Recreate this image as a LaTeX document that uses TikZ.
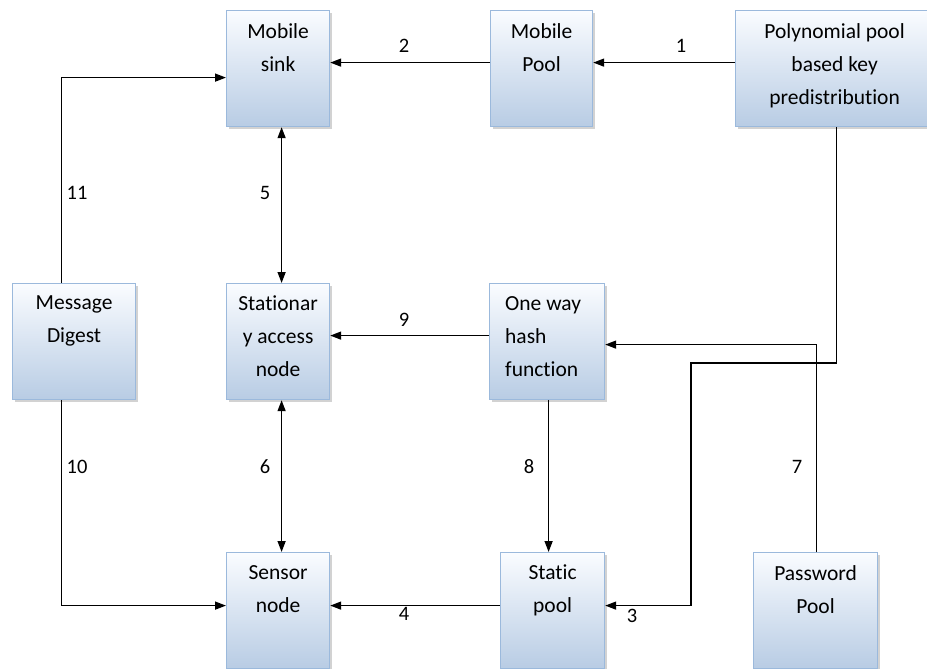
\documentclass[tikz,border=0pt]{standalone}
\usepackage{fontspec}
\setmainfont{Carlito}[Ligatures=NoCommon]
\usetikzlibrary{arrows.meta,shadows}
\definecolor{boxtop}{RGB}{250,252,255}
\definecolor{boxbot}{RGB}{184,204,228}
\definecolor{boxline}{RGB}{155,185,220}

\begin{document}
\begin{tikzpicture}[x=1pt,y=-1pt,
    blk/.style={draw=boxline, line width=1.2pt, top color=boxtop, bottom color=boxbot,
        anchor=north west, minimum height=116pt, inner sep=0pt,
        drop shadow={shadow xshift=2pt, shadow yshift=-2pt, fill=black!35, opacity=0.5}},
    txt/.style={anchor=north, align=center, inner sep=0pt, font=\fontsize{21.5}{33}\selectfont},
    num/.style={inner sep=0pt, font=\fontsize{20.5}{24}\selectfont},
    arr/.style={line width=1.5pt, -{Triangle[length=11pt,width=8pt]}},
    darr/.style={line width=1.5pt, {Triangle[length=11pt,width=8pt]}-{Triangle[length=11pt,width=8pt]}}]
        \useasboundingbox (0,0) rectangle (927,669);
        % boxes
        \node[blk, minimum width=103pt] (sink) at (226,10) {};
        \node[blk, minimum width=102pt] (mpool) at (490,10) {};
        \node[blk, minimum width=198pt] (poly) at (735,10) {};
        \node[blk, minimum width=123pt] (md) at (12,283) {};
        \node[blk, minimum width=103pt] (stat) at (226,283) {};
        \node[blk, minimum width=115pt] (hash) at (489,283) {};
        \node[blk, minimum width=103pt] (sens) at (226,552) {};
        \node[blk, minimum width=104pt] (spool) at (500,552) {};
        \node[blk, minimum width=124pt] (pw) at (753,552) {};
        % box texts
        \node[txt] (sinkt) at ([yshift=-13pt]sink.north) {Mobile\\sink};
        \node[txt] (mpoolt) at ([yshift=-13pt]mpool.north) {Mobile\\Pool};
        \node[txt] (polyt) at ([yshift=-13pt]poly.north) {Polynomial pool\\based key\\predistribution};
        \node[txt] (mdt) at ([yshift=-13pt]md.north) {Message\\Digest};
        \node[txt] (statt) at ([yshift=-13pt]stat.north) {Stationar\\y access\\node};
        \node[txt, anchor=north west, align=left] (hasht) at ([xshift=16pt,yshift=-13pt]hash.north west) {One way\\hash\\function};
        \node[txt] (senst) at ([yshift=-13pt]sens.north) {Sensor\\node};
        \node[txt] (spoolt) at ([yshift=-13pt]spool.north) {Static\\pool};
        \node[txt] (pwt) at ([yshift=-13pt]pw.north) {Password\\Pool};
        % connectors
        \coordinate (bend3) at (691,363);
        \draw[arr] ([yshift=6pt]poly.west) -- ([yshift=6pt]mpool.east);
        \draw[arr] ([yshift=6pt]mpool.west) -- ([yshift=6pt]sink.east);
        \draw[arr] ([xshift=2pt]poly.south) |- (bend3) |- ([yshift=5pt]spool.east);
        \draw[arr] ([yshift=5pt]spool.west) -- ([yshift=5pt]sens.east);
        \draw[darr] ([xshift=3.5pt]sink.south) -- ([xshift=3.5pt]stat.north);
        \draw[darr] ([xshift=3.5pt]stat.south) -- ([xshift=3.5pt]sens.north);
        \draw[arr] ([xshift=1pt]pw.north) |- ([yshift=-3pt]hash.east);
        \draw[arr] ([xshift=1.5pt]hash.south) -- ([xshift=-4pt]spool.north);
        \draw[arr] ([yshift=6pt]hash.west) -- ([yshift=6pt]stat.east);
        \draw[arr] ([xshift=-12.5pt]md.south) |- ([yshift=5pt]sens.west);
        \draw[arr] ([xshift=-12.5pt]md.north) |- ([yshift=-9pt]sink.west);
        % numbers
        \node[num] (l1) at (681,46) {1};
        \node[num] (l2) at (404,46) {2};
        \node[num] (l3) at (632,616) {3};
        \node[num] (l4) at (404,614) {4};
        \node[num] (l5) at (265,193) {5};
        \node[num] (l6) at (265,467) {6};
        \node[num] (l7) at (797,467) {7};
        \node[num] (l8) at (529,467) {8};
        \node[num] (l9) at (404,320) {9};
        \node[num] (l10) at (77,467) {10};
        \node[num] (l11) at (77,193) {11};
    \end{tikzpicture}
\end{document}
